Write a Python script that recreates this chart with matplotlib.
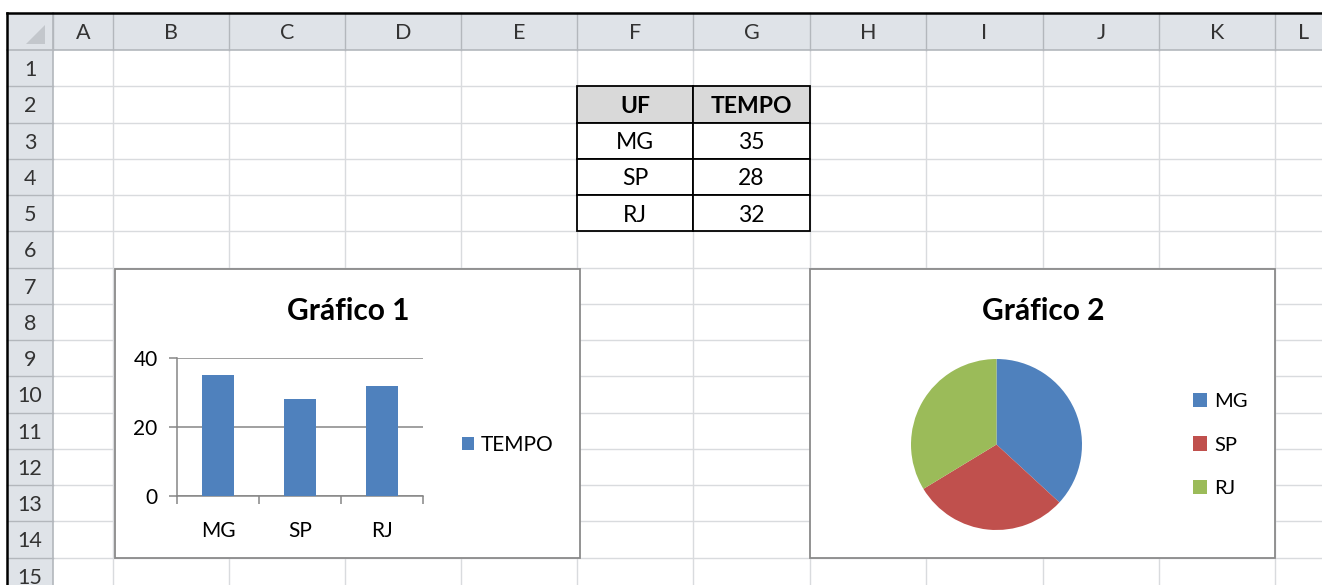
import matplotlib.pyplot as plt
from matplotlib.patches import Rectangle, Polygon

plt.rcParams['font.family'] = ['Lato', 'DejaVu Sans']

# data
uf = ['MG', 'SP', 'RJ']
tempo = [35, 28, 32]
table_header = ['UF', 'TEMPO']
col_letters = ['A', 'B', 'C', 'D', 'E', 'F', 'G', 'H', 'I', 'J', 'K', 'L']
row_numbers = list(range(1, 16))
bar_yticks = [0, 20, 40]
titles = ['Gráfico 1', 'Gráfico 2']
pie_colors = ['#4f81bd', '#c0504d', '#9bbb59']

# sheet layout (pixels)
W, H = 1322, 585
col_edges = [53, 113, 229, 345, 461, 577, 693, 810, 926, 1043, 1159, 1275, 1333]
row_top = 50
row_h = 36.25
hdr_fill = '#dfe3e8'
hdr_line = '#b3b7bc'
grid_col = '#d9dbde'
txt_col = '#333333'


def fx(x):
    return x / W


def fy(y):
    return 1 - y / H


fig = plt.figure(figsize=(W / 100, H / 100), dpi=100)
bg = fig.add_axes([0, 0, 1, 1])
bg.set_xlim(0, W)
bg.set_ylim(H, 0)
bg.axis('off')

# cell gridlines
for x in col_edges[1:]:
    bg.plot([x, x], [row_top, H], color=grid_col, lw=1.0, zorder=1)
for i in range(1, len(row_numbers) + 1):
    y = row_top + i * row_h
    bg.plot([53, W], [y, y], color=grid_col, lw=1.0, zorder=1)

# headers
bg.add_patch(Rectangle((7, 13), W - 7, row_top - 13, facecolor=hdr_fill, edgecolor='none', zorder=2))
bg.add_patch(Rectangle((7, 13), 53 - 7, H - 13, facecolor=hdr_fill, edgecolor='none', zorder=2))
for x in col_edges:
    bg.plot([x, x], [13, row_top], color=hdr_line, lw=1.0, zorder=3)
for i in range(1, len(row_numbers) + 1):
    y = row_top + i * row_h
    bg.plot([7, 53], [y, y], color=hdr_line, lw=1.0, zorder=3)
bg.plot([7, W], [row_top, row_top], color=hdr_line, lw=1.2, zorder=3)
bg.plot([53, 53], [13, H], color=hdr_line, lw=1.2, zorder=3)
bg.add_patch(Polygon([(26, 44), (45, 44), (45, 25)], closed=True, facecolor='#c3c7cc', edgecolor='none', zorder=3))
bg.plot([7, W], [13, 13], color='black', lw=1.8, zorder=4)
bg.plot([7, 7], [13, H], color='black', lw=1.8, zorder=4)

for i, letter in enumerate(col_letters):
    xc = (col_edges[i] + col_edges[i + 1]) / 2
    bg.text(xc, 33, letter, ha='center', va='center', fontsize=15.5, color=txt_col, zorder=4)
for i, n in enumerate(row_numbers):
    yc = row_top + (i + 0.5) * row_h + 2
    bg.text(30, yc, str(n), ha='center', va='center', fontsize=15.5, color=txt_col, zorder=4)

# data table F2:G5
tx = [col_edges[5], col_edges[6], col_edges[7]]
rows = [table_header] + [[u, str(t)] for u, t in zip(uf, tempo)]
for r, row in enumerate(rows):
    y0 = row_top + (1 + r) * row_h
    for c, val in enumerate(row):
        fill = '#d9d9d9' if r == 0 else 'white'
        bg.add_patch(Rectangle((tx[c], y0), tx[c + 1] - tx[c], row_h, facecolor=fill,
                               edgecolor='black', lw=1.3, zorder=5))
        bg.text((tx[c] + tx[c + 1]) / 2, y0 + row_h / 2 + 2, val, ha='center', va='center',
                fontsize=16.5, fontweight='bold' if r == 0 else 'normal', color='black', zorder=6)

# chart boxes
boxes = [(115, 269, 580, 558), (810, 269, 1275, 558)]
for (x0, y0, x1, y1), title in zip(boxes, titles):
    bg.add_patch(Rectangle((x0, y0), x1 - x0, y1 - y0, facecolor='white', edgecolor='#8a8a8a',
                           lw=1.3, zorder=7))
    bg.text((x0 + x1) / 2 + 1, 311, title, ha='center', va='center', fontsize=21.5,
            fontweight='bold', color='black', zorder=8)

# bar chart
ax_l, ax_r, ax_t, ax_b = 177, 423, 358, 496
ax = fig.add_axes([fx(ax_l), fy(ax_b), fx(ax_r - ax_l), (ax_b - ax_t) / H])
ax.set_facecolor('none')
bars = ax.bar(range(len(uf)), tempo, width=0.4, color='#4f81bd', label='TEMPO', zorder=3)
ax.set_xlim(-0.5, len(uf) - 0.5)
ax.set_ylim(0, 40)
ax.set_yticks(bar_yticks)
ax.set_xticks(range(len(uf)))
ax.set_xticklabels(uf)
ax.set_xticks([i - 0.5 for i in range(len(uf) + 1)], minor=True)
ax.grid(axis='y', color='#868686', lw=1.1, zorder=0)
for s in ['top', 'right']:
    ax.spines[s].set_visible(False)
for s in ['left', 'bottom']:
    ax.spines[s].set_color('#868686')
    ax.spines[s].set_linewidth(1.1)
ax.tick_params(axis='y', length=6, width=1.1, color='#868686', pad=8, labelsize=15, labelcolor='black')
ax.tick_params(axis='x', which='major', length=0, pad=18, labelsize=15, labelcolor='black')
ax.tick_params(axis='x', which='minor', length=6, width=1.1, color='#868686')
fig.legend(handles=[bars], labels=['TEMPO'], loc='center left', bbox_to_anchor=(fx(462), fy(445)),
           frameon=False, fontsize=15, handlelength=0.6, handleheight=0.6, handletextpad=0.3,
           borderpad=0, borderaxespad=0)

# pie chart
cx, cy, r = 996.5, 444.5, 85.5
pax = fig.add_axes([fx(cx - r), fy(cy + r), 2 * r / W, 2 * r / H])
wedges, _ = pax.pie(tempo, colors=pie_colors, startangle=90, counterclock=False,
                    wedgeprops=dict(linewidth=0))
pax.set_xlim(-1, 1)
pax.set_ylim(-1, 1)
fig.legend(handles=wedges, labels=uf, loc='center left', bbox_to_anchor=(fx(1193), fy(445)),
           frameon=False, fontsize=14.5, handlelength=0.7, handleheight=0.7, handletextpad=0.35,
           labelspacing=1.3, borderpad=0, borderaxespad=0)

fig.savefig('out.png', dpi=100)
